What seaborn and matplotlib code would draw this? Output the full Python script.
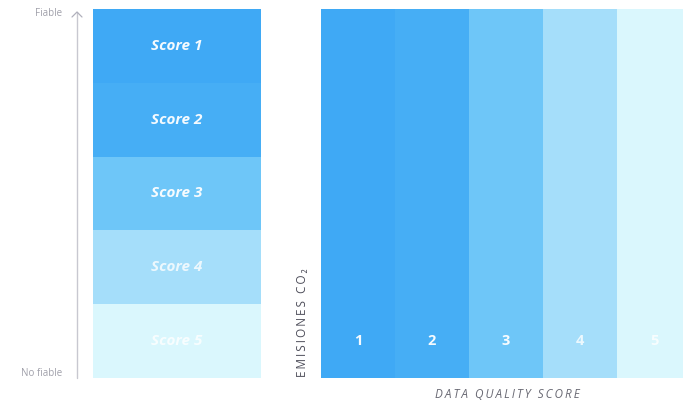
import matplotlib
matplotlib.use("Agg")
import matplotlib.pyplot as plt
import seaborn as sns
import pandas as pd

# ---- data ----
score_labels = ["Score 1", "Score 2", "Score 3", "Score 4", "Score 5"]
score_span = [1, 1, 1, 1, 1]
column_labels = ["1", "2", "3", "4", "5"]
column_span = [1, 1, 1, 1, 1]
colors = ["#3FA9F5", "#46AEF5", "#6EC6F8", "#A5DEFA", "#DAF7FD"]
y_top_label = "Fiable"
y_bottom_label = "No fiable"
x_title = "DATA QUALITY SCORE"
y_title = "EMISIONES CO₂"


def spaced(s):
    return "\u2009".join(s)


sns.set_theme(style="white")
plt.rcParams["font.family"] = ["Open Sans", "DejaVu Sans"]

fig = plt.figure(figsize=(6.83, 4.07), dpi=100)
fig.patch.set_facecolor("white")

# ---- left panel: stacked score blocks ----
axL = fig.add_axes([93 / 683, 29 / 407, 168 / 683, 369 / 407])
dfL = pd.DataFrame({"score": score_labels, "span": score_span})
sns.barplot(data=dfL, y="score", x="span", hue="score", palette=colors,
            orient="h", width=1.0, legend=False, ax=axL, saturation=1,
            linewidth=0)
axL.set_xlim(0, 1)
axL.set_ylim(len(score_labels) - 0.5, -0.5)
for i, lab in enumerate(score_labels):
    axL.text(0.5, i, lab, color="white", ha="center", va="center",
             fontsize=11, fontweight="bold", fontstyle="italic",
             alpha=0.95 if i < 3 else 0.8)
axL.axis("off")

# overlay axes in pixel coordinates for annotations
arr_ax = fig.add_axes([0, 0, 1, 1], facecolor="none")
arr_ax.set_xlim(0, 683)
arr_ax.set_ylim(407, 0)
arr_ax.axis("off")
arr_ax.plot([77, 77], [378, 12], color="#C8C8D0", lw=1.0)
arr_ax.plot([72, 77, 82], [17, 12, 17], color="#B0B0BC", lw=0.9)
arr_ax.text(62, 14, y_top_label, ha="right", va="center", fontsize=7,
            color="#A0A0AA")
arr_ax.text(62, 374, y_bottom_label, ha="right", va="center", fontsize=7,
            color="#A0A0AA")

# ---- right panel: columns ----
axR = fig.add_axes([321 / 683, 29 / 407, 362 / 683, 369 / 407])
dfR = pd.DataFrame({"col": column_labels, "span": column_span})
sns.barplot(data=dfR, x="col", y="span", hue="col", palette=colors,
            width=1.0, legend=False, ax=axR, saturation=1, linewidth=0)
axR.set_xlim(-0.5, 4.39)
axR.set_ylim(0, 1)
for i, lab in enumerate(column_labels):
    axR.text(i, 0.10, lab, color="white", ha="center", va="center",
             fontsize=10.5, fontweight="bold", alpha=0.95 if i < 3 else 0.8)
axR.axis("off")

arr_ax.text(303, 377, spaced(y_title), rotation=90, ha="center", va="bottom",
            fontsize=8.5, color="#4E4E5A")
arr_ax.text(507, 395, spaced(x_title), ha="center", va="center", fontsize=8.5,
            fontstyle="italic", color="#6A6A74")

fig.savefig("out.png", dpi=100, facecolor="white")
